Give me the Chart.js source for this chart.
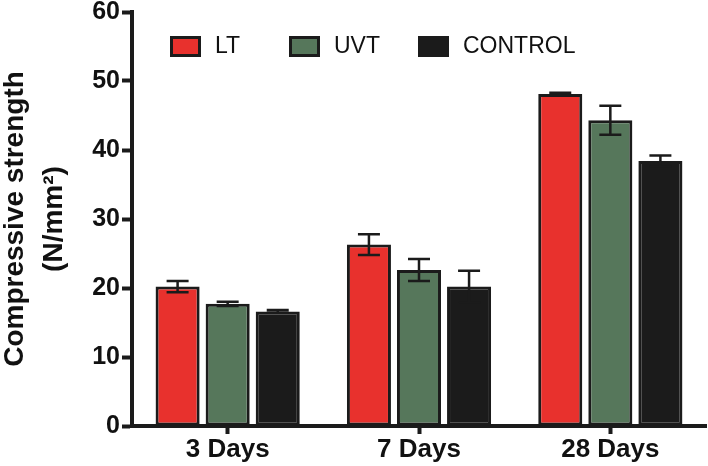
<!DOCTYPE html>
<html>
<head>
<meta charset="utf-8">
<script src="https://cdn.jsdelivr.net/npm/chart.js@4.4.0/dist/chart.umd.min.js"></script>
<style>
  html, body { margin: 0; padding: 0; background: #fff; }
  #wrap { width: 708px; height: 466px; }
</style>
</head>
<body>
<div id="wrap"><canvas id="chart"></canvas></div>
<script>
const categories = ["3 Days", "7 Days", "28 Days"];
const seriesNames = ["LT", "UVT", "CONTROL"];
const ltValues = [20.2, 26.3, 48.1];
const ltErrors = [0.8, 1.5, 0.2];
const uvtValues = [17.7, 22.6, 44.3];
const uvtErrors = [0.3, 1.6, 2.1];
const controlValues = [16.6, 20.2, 38.4];
const controlErrors = [0.2, 2.3, 0.8];
const yTicks = [0, 10, 20, 30, 40, 50, 60];

const colors = ["#e8312d", "#56775b", "#1b1b1b"];
const FONT = "'Liberation Sans', Arial, sans-serif";

// whiskers on top of the bars
const errorBars = {
    id: "errorBars",
    afterDatasetsDraw(chart) {
        const ctx = chart.ctx;
        const y = chart.scales.y;
        ctx.save();
        ctx.strokeStyle = "#1b1b1b";
        ctx.lineWidth = 2.5;
        chart.data.datasets.forEach((ds, i) => {
            const meta = chart.getDatasetMeta(i);
            meta.data.forEach((bar, j) => {
                const v = ds.data[j];
                const e = ds.errors[j];
                const top = y.getPixelForValue(v + e);
                const bot = y.getPixelForValue(v - e);
                const x = bar.x;
                ctx.beginPath();
                ctx.moveTo(x, top); ctx.lineTo(x, bot);
                ctx.moveTo(x - 11, top); ctx.lineTo(x + 11, top);
                ctx.moveTo(x - 11, bot); ctx.lineTo(x + 11, bot);
                ctx.stroke();
            });
        });
        ctx.restore();
    },
};

// legend drawn inside the plot area
const innerLegend = {
    id: "innerLegend",
    afterDraw(chart) {
        const ctx = chart.ctx;
        const xs = [170, 289, 418];
        ctx.save();
        ctx.font = "23px " + FONT;
        ctx.textBaseline = "middle";
        chart.data.datasets.forEach((ds, i) => {
            ctx.fillStyle = "#1b1b1b";
            ctx.fillRect(xs[i], 36, 31, 21);
            ctx.fillStyle = ds.backgroundColor;
            ctx.fillRect(xs[i] + 3, 39, 25, 15);
            ctx.fillStyle = "#111";
            ctx.fillText(ds.label, xs[i] + 45, 47);
        });
        ctx.restore();
    },
};

new Chart(document.getElementById("chart"), {
    type: "bar",
    data: {
        labels: categories,
        datasets: [
            { label: seriesNames[0], data: ltValues, errors: ltErrors, backgroundColor: colors[0] },
            { label: seriesNames[1], data: uvtValues, errors: uvtErrors, backgroundColor: colors[1] },
            { label: seriesNames[2], data: controlValues, errors: controlErrors, backgroundColor: colors[2] },
        ].map((d) => Object.assign(d, {
            borderColor: "#1b1b1b",
            borderWidth: 3,
            borderSkipped: false,
            categoryPercentage: 0.785,
            barPercentage: 0.88,
        })),
    },
    options: {
        responsive: true,
        maintainAspectRatio: false,
        animation: false,
        layout: { padding: { top: 12, right: 2, left: 0, bottom: 0 } },
        plugins: {
            legend: { display: false },
            tooltip: { enabled: false },
        },
        scales: {
            x: {
                afterFit: (axis) => { axis.height = 40; },
                grid: { display: true, drawOnChartArea: false, offset: false, tickLength: 8, tickWidth: 4, tickColor: "#1b1b1b" },
                border: { display: true, width: 4, color: "#1b1b1b" },
                ticks: { color: "#111", font: { family: FONT, size: 26, weight: "bold" }, padding: 0 },
            },
            y: {
                min: 0,
                max: 60,
                afterFit: (axis) => { axis.width = 132; axis.paddingTop = 0; axis.paddingBottom = 0; },
                afterBuildTicks: (axis) => { axis.ticks = yTicks.map((v) => ({ value: v })); },
                grid: { display: true, drawOnChartArea: false, tickLength: 10, tickWidth: 4, tickColor: "#1b1b1b" },
                border: { display: true, width: 4, color: "#1b1b1b" },
                ticks: { color: "#111", font: { family: FONT, size: 25, weight: "bold" }, padding: 2 },
                title: {
                    display: true,
                    text: ["Compressive strength", "(N/mm\u00b2)"],
                    color: "#111",
                    font: { family: FONT, size: 28, weight: "bold", lineHeight: 1.42 },
                    padding: { top: -5, bottom: 5 },
                },
            },
        },
    },
    plugins: [errorBars, innerLegend],
});
</script>
</body>
</html>
